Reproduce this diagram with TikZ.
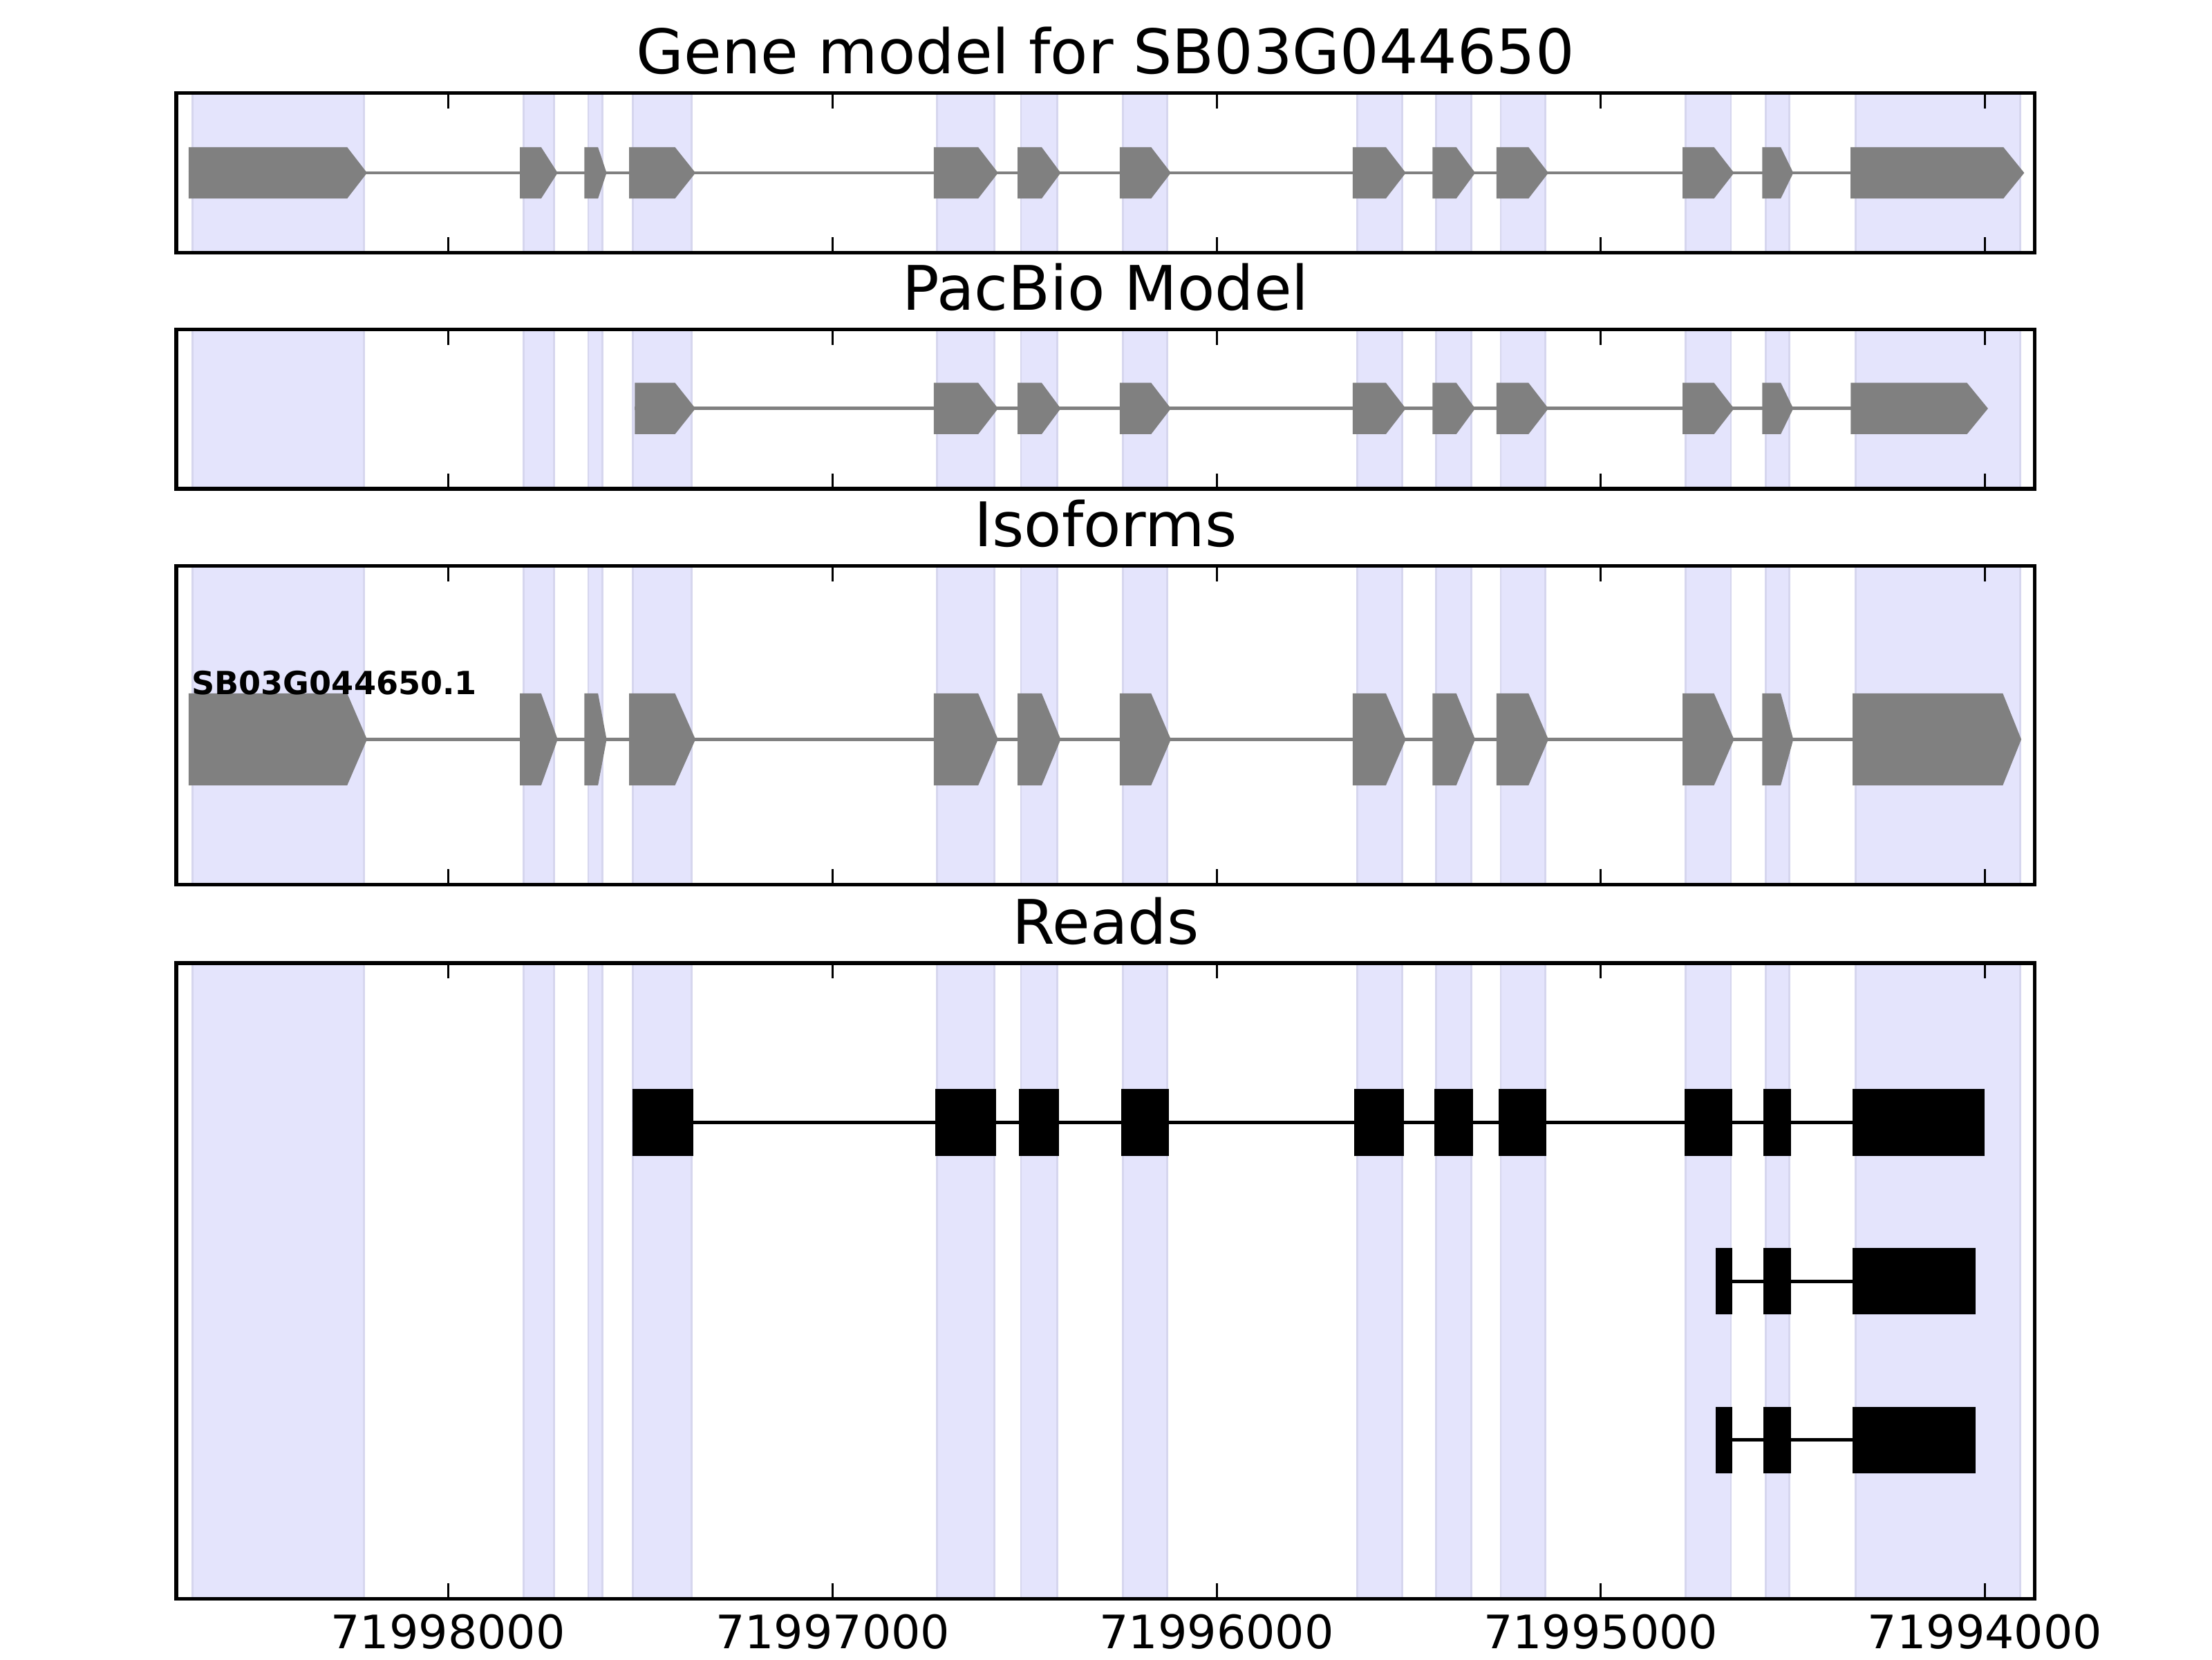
\documentclass[tikz,border=0pt]{standalone}
\usepackage{fontspec}
\setmainfont{DejaVu Sans}
\definecolor{bandColor}{RGB}{228,228,252}
\definecolor{bandEdge}{RGB}{214,214,238}
\definecolor{exonColor}{RGB}{128,128,128}
\tikzstyle{track} = [x = 0.36735pt, y = -0.36735pt]
\tikzstyle{bandStyle} = [fill=bandColor, draw=bandEdge, line width = .5pt]
\tikzstyle{exonStyle} = [fill=exonColor]
\tikzstyle{intronLine} = [draw=exonColor, line width = .85pt]
\tikzstyle{readBlockStyle} = [fill=black]
\tikzstyle{readLine} = [draw=black, line width = .9pt]
\tikzstyle{frameStyle} = [draw=black, line width = 1pt]
\tikzstyle{tickStyle} = [draw=black, line width = .5pt]
\tikzstyle{titleText} = [anchor=base, inner sep=0pt, font=\fontsize{16}{19}\selectfont]
\tikzstyle{tickText} = [anchor=base, inner sep=0pt, font=\fontsize{12}{14}\selectfont]
\tikzstyle{isoformText} = [anchor=base west, inner sep=0pt, font=\fontsize{8.3}{10}\selectfont\bfseries]
\newcommand{\axisLeft}{125}
\newcommand{\axisRight}{1442.4}
\newcommand{\axisMiddle}{783.7}
\newcommand{\tickLength}{10.9}
\newcommand{\readHalf}{23.6}
\newcommand{\bandList}{136.5/257.8, 371.3/392.9, 417/427, 448.6/490.2, 664/704.7, 723.75/749.4, 796/827.5, 962/993.9, 1017.8/1043.1, 1063.8/1095.3, 1195/1226.9, 1251.8/1268.2, 1315.5/1432}
\newcommand{\tickList}{317.6/71998000, 590.3/71997000, 862.5/71996000, 1134.7/71995000, 1407/71994000}
\newcommand{\firstExons}{133.7/246.1/260.2, 368.5/383.6/395.3, 414.2/423.9/430.0, 445.9/478.5/493.0}
\newcommand{\sharedExons}{661.9/693.4/707.5, 721.3/738.4/751.9, 793.75/816/830, 958.8/982.4/996.5, 1015.5/1032.3/1045.7, 1060.8/1083.5/1097.6, 1192.7/1215/1229.2, 1249.2/1262.3/1271.2}
\newcommand{\longReadBlocks}{448.1/491.5, 662.75/706.2, 722.4/750.6, 794.6/828.4, 960/995.2, 1016.6/1044.4, 1062.4/1096.1, 1194/1228.1, 1250.2/1269.7, 1313.2/1407}
\newcommand{\shortReadBlocks}{1216.1/1228.1, 1250.2/1269.7, 1313.2/1400.6}
\newcommand{\trackBands}[2]{
  \foreach \bandStart/\bandEnd in \bandList {
    \filldraw [bandStyle] (\bandStart, #1) rectangle (\bandEnd, #2);
  }
}
\newcommand{\trackFrame}[2]{
  \draw [frameStyle] (\axisLeft, #1) rectangle (\axisRight, #2);
  \foreach \tick/\tickName in \tickList {
    \draw [tickStyle] (\tick, #1) -- + (0, \tickLength);
    \draw [tickStyle] (\tick, #2) -- + (0, -\tickLength);
  }
}
\newcommand{\exonArrow}[5]{\fill [exonStyle] (#3, #1 - #2) -- (#4, #1 - #2) -- (#5, #1) -- (#4, #1 + #2) -- (#3, #1 + #2) -- cycle;}
\newcommand{\exonRow}[3]{
  \foreach \exonStart/\exonShoulder/\exonTip in #3 {
    \exonArrow{#1}{#2}{\exonStart}{\exonShoulder}{\exonTip}
  }
}
\newcommand{\readBlock}[3]{\fill [readBlockStyle] (#2, #1 - \readHalf) rectangle (#3, #1 + \readHalf);}
\newcommand{\readRow}[4]{
  \draw [readLine] (#2, #1) -- (#3, #1);
  \foreach \blockStart/\blockEnd in #4 {
    \readBlock{#1}{\blockStart}{\blockEnd}
  }
}

\begin{document}
\begin{tikzpicture}[track]
  \useasboundingbox (0,0) rectangle (1568,1176);

  \trackBands{66}{179}
  \draw [intronLine] (133.7, 122.5) -- (1315, 122.5);
  \exonRow{122.5}{18.2}{\firstExons}
  \exonRow{122.5}{18.2}{\sharedExons}
  \exonArrow{122.5}{18.2}{1311.8}{1420.1}{1434.9}
  \trackFrame{66}{179}
  \node [titleText] (geneTitle) at (\axisMiddle, 52.4) {Gene model for SB03G044650};

  \trackBands{233.5}{346.5}
  \draw [intronLine] (450, 289.5) -- (1315, 289.5);
  \exonArrow{289.5}{18.2}{450}{478.5}{493}
  \exonRow{289.5}{18.2}{\sharedExons}
  \exonArrow{289.5}{18.2}{1311.9}{1394.3}{1409.2}
  \trackFrame{233.5}{346.5}
  \node [titleText] (pacbioTitle) at (\axisMiddle, 219.9) {PacBio Model};

  \trackBands{401}{627}
  \draw [intronLine] (133.7, 524) -- (1316, 524);
  \exonRow{524}{32.6}{\firstExons}
  \exonRow{524}{32.6}{\sharedExons}
  \exonArrow{524}{32.6}{1313.2}{1419.7}{1432.8}
  \node [isoformText] (isoformLabel) at (135.4, 492) {SB03G044650.1};
  \trackFrame{401}{627}
  \node [titleText] (isoformTitle) at (\axisMiddle, 387.4) {Isoforms};

  \trackBands{682.5}{1133}
  \readRow{795.5}{448.1}{1407}{\longReadBlocks}
  \readRow{908}{1216.1}{1400.6}{\shortReadBlocks}
  \readRow{1020.5}{1216.1}{1400.6}{\shortReadBlocks}
  \trackFrame{682.5}{1133}
  \node [titleText] (readsTitle) at (\axisMiddle, 668.9) {Reads};

  \foreach \tick/\tickName in \tickList {
    \node [tickText] (tick\tickName) at (\tick, 1168.6) {\tickName};
  }
\end{tikzpicture}
\end{document}
